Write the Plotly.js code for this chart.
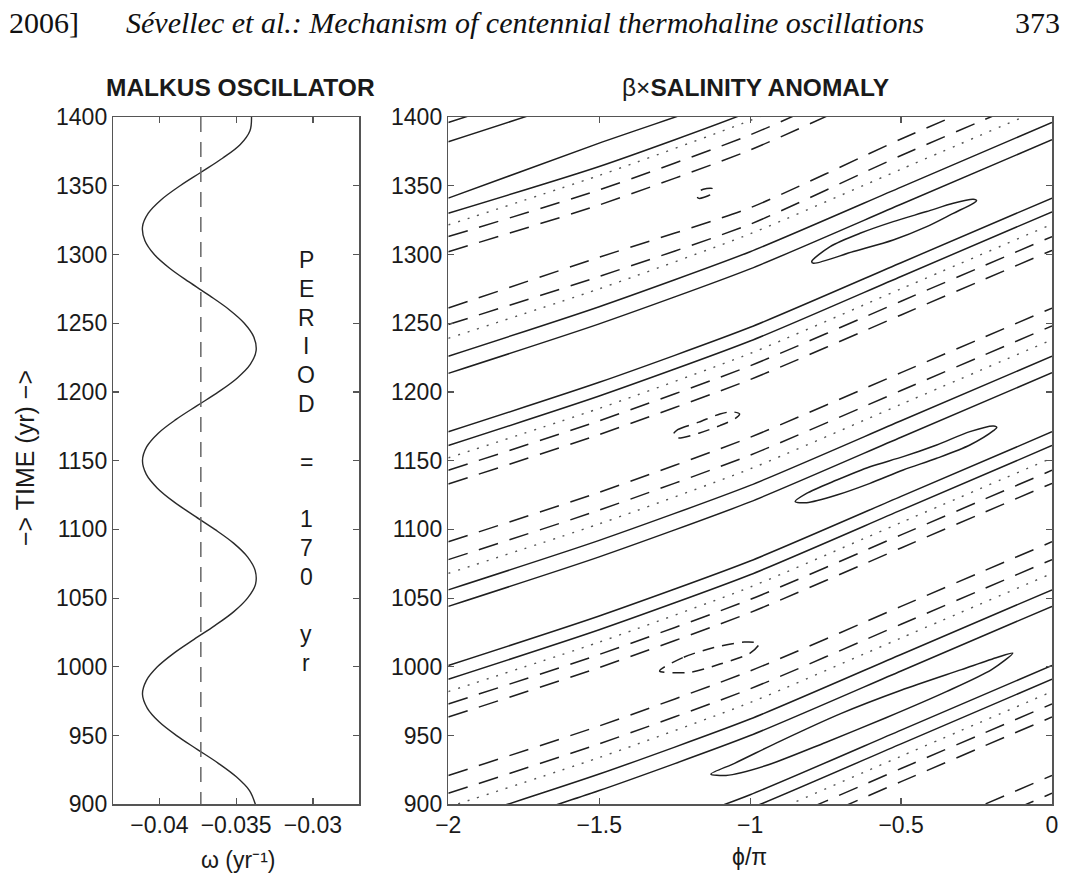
<!DOCTYPE html>
<html><head><meta charset="utf-8">
<script src="https://cdn.plot.ly/plotly-3.0.1.min.js"></script>
<style>html,body{margin:0;padding:0;background:#fff}#chart{width:1065px;height:875px}</style>
</head><body><div id="chart"></div>
<script>
// ---- left panel: Malkus oscillator ----
const years = [900,910,920,930,940,950,960,970,980,990,1000,1010,1020,1030,1040,1050,1060,1070,1080,1090,1100,1110,1120,1130,1140,1150,1160,1170,1180,1190,1200,1210,1220,1230,1240,1250,1260,1270,1280,1290,1300,1310,1320,1330,1340,1350,1360,1370,1380,1390,1400];
const omega = [-0.03375,-0.03413,-0.03499,-0.03618,-0.03754,-0.03888,-0.04002,-0.04079,-0.0411,-0.04085,
 -0.04013,-0.03905,-0.03774,-0.03639,-0.03517,-0.03426,-0.03374,-0.03376,-0.03426,-0.03517,
 -0.03639,-0.03774,-0.03905,-0.04013,-0.04085,-0.0411,-0.04083,-0.04007,-0.03891,-0.03754,
 -0.03615,-0.03494,-0.03408,-0.0337,-0.03385,-0.03447,-0.03547,-0.03673,-0.03807,-0.03933,
 -0.04033,-0.04094,-0.0411,-0.04072,-0.03986,-0.03865,-0.03726,-0.03589,-0.03473,-0.0341,-0.0340];
const omegaMean = -0.0373;
const omegaTicks = [-0.04,-0.035,-0.03];
const timeTicks = [900,950,1000,1050,1100,1150,1200,1250,1300,1350,1400];
const periodText = ["P","E","R","I","O","D","","=","","1","7","0","","y","r"];

// ---- right panel: salinity anomaly contours ----
const phiTicks = [-2,-1.5,-1,-0.5,0];
const phiGrid = [-2,-1.5,-1,-0.5,0];
// times where each open contour crosses phiGrid
const solidLines = [
 [1396,1432,1472,1519,1566],[1382,1418,1458,1505,1552],
 [1341,1381,1419,1464,1511],[1330,1364,1404,1453,1500],
 [1226,1262,1302,1349,1396],[1213.5,1249.5,1289.5,1336.5,1383.5],
 [1171,1207,1247,1294,1341],[1161,1197,1237,1284,1331],
 [1056,1092,1132,1179,1226],[1044,1080,1120,1167,1214],
 [1001,1037,1077,1124,1171],[991,1027,1067,1114,1161],
 [886,922,962,1009,1056],[874,910,950,997,1044],
 [831,867,907,954,1001],[821,857,897,944,991]];
const dottedLines = [
 [1321.5,1357.5,1397.5,1444.5,1491.5],[1239,1275,1315,1362,1409],
 [1152,1188,1228,1275,1322],[1068,1104,1144,1191,1238],
 [982,1018,1058,1105,1152],[898,934,974,1021,1068],[812,848,888,935,982]];
const dashedLines = [
 [1313,1347,1387,1436,1483],[1302,1336,1376,1425,1472],
 [1261,1298,1334,1384,1431],[1249,1284,1322,1372,1419],
 [1143,1179,1219,1266,1313],[1133,1169,1209,1256,1303],
 [1091,1127,1167,1214,1261],[1078,1114,1154,1201,1248],
 [973,1009,1049,1096,1143],[963.5,999.5,1039.5,1086.5,1133.5],
 [921,957,997,1044,1091],[908,944,984,1031,1078],
 [803,839,879,926,973],[793.5,829.5,869.5,916.5,963.5],
 [751,787,827,874,921],[738,774,814,861,908]];
// closed contours (maxima, solid)
const maxCellPhi = [
 [-0.796,-0.735,-0.636,-0.526,-0.415,-0.327,-0.261,-0.25,-0.261,-0.327,-0.415,-0.526,-0.658,-0.79,-0.796],
 [-0.851,-0.813,-0.713,-0.603,-0.493,-0.382,-0.272,-0.194,-0.183,-0.194,-0.272,-0.382,-0.493,-0.603,-0.713,-0.813,-0.851],
 [-1.13,-1.05,-0.9,-0.7,-0.5,-0.3,-0.18,-0.13,-0.2,-0.35,-0.55,-0.75,-0.95,-1.08,-1.13]];
const maxCellTime = [
 [1294.8,1305.7,1315.4,1323.9,1331.2,1337.2,1340.1,1339.1,1337.2,1329.9,1320.2,1310.5,1302.1,1293.6,1294.8],
 [1120.2,1126.2,1135.9,1145.6,1152.9,1161.4,1171.1,1175.2,1174.2,1171.8,1161.4,1151.7,1143.2,1133.5,1125.0,1119.4,1120.2],
 [922,930,946,966,983,998,1007,1010,998,982,963,945,928,921,922]];
// closed contours (minima, dashed)
const minCellPhi = [
 [-1.175,-1.17,-1.133,-1.12,-1.127,-1.166,-1.175],
 [-1.255,-1.24,-1.17,-1.1,-1.06,-1.035,-1.05,-1.1,-1.17,-1.24,-1.255],
 [-1.3,-1.22,-1.12,-1.02,-0.97,-1.0,-1.1,-1.2,-1.3]];
const minCellTime = [
 [1342,1340.8,1343.3,1346,1348.1,1346.4,1342],
 [1169,1172.5,1178,1184,1185.5,1184,1180.5,1175.5,1170,1166.5,1169],
 [997,1007,1014,1018,1017,1010,1002,996,997]];

function joinOpen(lines){
  const x=[],y=[];
  lines.forEach(l=>{ l.forEach((t,i)=>{x.push(phiGrid[i]);y.push(t);}); x.push(null);y.push(null); });
  return {x,y};
}
function joinClosed(px,pt){
  const x=[],y=[];
  px.forEach((row,k)=>{ row.forEach((p,i)=>{x.push(p);y.push(pt[k][i]);}); x.push(null);y.push(null); });
  return {x,y};
}
const ink='#1e1e1e';
const sO=joinOpen(solidLines), dO=joinOpen(dottedLines), aO=joinOpen(dashedLines);
const mx=joinClosed(maxCellPhi,maxCellTime), mn=joinClosed(minCellPhi,minCellTime);

const traces=[
 {x:omega,y:years,xaxis:'x',yaxis:'y',mode:'lines',line:{color:'#2a2a2a',width:1.4,shape:'spline'},hoverinfo:'skip'},
 {x:[omegaMean,omegaMean],y:[1400,900],xaxis:'x',yaxis:'y',mode:'lines',line:{color:'#666',width:1.5,dash:'15px,10px'},hoverinfo:'skip'},
 {x:sO.x,y:sO.y,xaxis:'x2',yaxis:'y2',mode:'lines',line:{color:ink,width:1.5,shape:'spline',smoothing:0.6},connectgaps:false,hoverinfo:'skip'},
 {x:mx.x,y:mx.y,xaxis:'x2',yaxis:'y2',mode:'lines',line:{color:ink,width:1.5,shape:'spline',smoothing:0.8},connectgaps:false,hoverinfo:'skip'},
 {x:dO.x,y:dO.y,xaxis:'x2',yaxis:'y2',mode:'lines',line:{color:'#555',width:1.4,dash:'2px,8px',shape:'spline',smoothing:0.6},connectgaps:false,hoverinfo:'skip'},
 {x:aO.x,y:aO.y,xaxis:'x2',yaxis:'y2',mode:'lines',line:{color:ink,width:1.5,dash:'20px,12px',shape:'spline',smoothing:0.6},connectgaps:false,hoverinfo:'skip'},
 {x:mn.x,y:mn.y,xaxis:'x2',yaxis:'y2',mode:'lines',line:{color:ink,width:1.5,dash:'12px,8px',shape:'spline',smoothing:0.8},connectgaps:false,hoverinfo:'skip'}
];

const sans='Liberation Sans, Arial, Helvetica, sans-serif';
const serif='Liberation Serif, Times New Roman, serif';
const tf={family:sans,size:23,color:'#1a1a1a'};
const axBase={showline:true,linecolor:'#555',linewidth:1.5,mirror:'ticks',ticks:'inside',ticklen:6,tickwidth:1.2,tickcolor:'#555',showgrid:false,zeroline:false,tickfont:tf,fixedrange:true};
const yd=[1-804.3/875,1-117/875];
const px=v=>v/1065, py=v=>1-v/875;
const ann=[
  {text:'2006]',x:px(7),y:py(23),xanchor:'left',font:{family:serif,size:30,color:'#111'}},
  {text:'Sévellec et al.: Mechanism of centennial thermohaline oscillations',x:px(525),y:py(23),xanchor:'center',font:{family:serif,size:30,color:'#111',style:'italic'}},
  {text:'373',x:px(1062),y:py(23),xanchor:'right',font:{family:serif,size:30,color:'#111'}},
  {text:'MALKUS OSCILLATOR',x:px(240),y:py(88),xanchor:'center',font:{family:sans,size:24.5,color:'#1a1a1a',weight:700}},
  {text:'β×<b>SALINITY ANOMALY</b>',x:px(755),y:py(88),xanchor:'center',font:{family:sans,size:24.5,color:'#1a1a1a'}},
  {text:'−> TIME (yr) −>',textangle:-90,x:px(25),y:py(458),xanchor:'center',font:{family:sans,size:25,color:'#1a1a1a'}},
  {text:'ω (yr⁻¹)',x:px(238),y:py(860),xanchor:'center',font:tf},
  {text:'ϕ/π',x:px(749),y:py(857),xanchor:'center',font:tf}
];
periodText.forEach((s,i)=>{ if(s!=='') ann.push({text:s,x:px(306),y:py(260+i*28.8),xanchor:'center',font:{family:sans,size:23,color:'#1a1a1a'}}); });
ann.forEach(a=>{a.xref='paper';a.yref='paper';a.yanchor='middle';a.showarrow=false;});

const layout={
 width:1065,height:875,margin:{l:0,r:0,t:0,b:0},paper_bgcolor:'#fff',plot_bgcolor:'#fff',showlegend:false,
 xaxis:Object.assign({},axBase,{domain:[113.3/1065,359/1065],range:[-0.043,-0.027],tickvals:omegaTicks,anchor:'y'}),
 yaxis:Object.assign({},axBase,{domain:yd,range:[900,1400],tickvals:timeTicks,anchor:'x'}),
 xaxis2:Object.assign({},axBase,{domain:[448.3/1065,1052/1065],range:[-2,0],tickvals:phiTicks,anchor:'y2'}),
 yaxis2:Object.assign({},axBase,{domain:yd,range:[900,1400],tickvals:timeTicks,anchor:'x2'}),
 annotations:ann
};
Plotly.newPlot('chart',traces,layout,{staticPlot:true,displayModeBar:false}).then(()=>{
  const t=document.getElementById('js-plotly-tester'); if(t) t.remove();
});
</script></body></html>
